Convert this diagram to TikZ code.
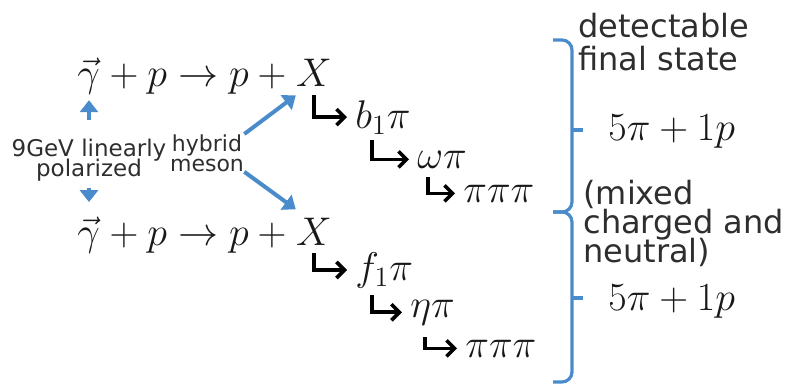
\RequirePackage{fix-cm}
\documentclass[tikz,border=0pt]{standalone}
\usepackage{fontspec}
\usepackage{amsmath}
\usepackage{xcolor}
\usepackage{tikz}
\usetikzlibrary{arrows.meta,positioning,calc}
\newfontfamily\sansfam{DejaVu Sans}
\definecolor{hblue}{HTML}{4A8CCB}
\definecolor{txt}{HTML}{2E2E2E}
\lineskiplimit=-50pt

\begin{document}
\begin{tikzpicture}[
    x=0.5pt, y=-0.5pt,
    mathnode/.style={inner sep=0pt, anchor=base west, text=black!90,
        font=\fontsize{20}{24}\selectfont},
    note/.style={inner sep=0pt, align=center, anchor=north, text=txt},
    sidenote/.style={inner sep=0pt, align=left, anchor=north west, text=txt,
        font=\sansfam\fontsize{16}{16.5}\selectfont},
    decayarrow/.style={-{Straight Barb[length=4pt,width=8pt]}, line width=1.8pt,
        black, shorten >=4pt},
    beamarrow/.style={-{Triangle[length=6pt,width=9pt]}, line width=2pt, hblue},
    bracket/.style={line width=1.6pt, hblue, rounded corners=5pt},
]
\useasboundingbox (0,0) rectangle (790,385);

% reactions
\node[mathnode] (gtop) at (77,87) {$\vec{\gamma}$};
\node[mathnode] (rtop) at (gtop.base east) {${}+p\to p+{}$};
\node[mathnode] (xtop) at (rtop.base east) {$X$};

\node[mathnode] (gbot) at (77,245) {$\vec{\gamma}$};
\node[mathnode] (rbot) at (gbot.base east) {${}+p\to p+{}$};
\node[mathnode] (xbot) at (rbot.base east) {$X$};

% decay products
\node[mathnode] (bone) at (355,128) {$b_1\pi$};
\node[mathnode] (wtop) at (417,168) {$\omega\pi$};
\node[mathnode] (pitop) at (463,202) {$\pi\pi\pi$};

\node[mathnode] (fone) at (355,280) {$f_1\pi$};
\node[mathnode] (eta) at (410,317) {$\eta\pi$};
\node[mathnode] (pibot) at (465,357) {$\pi\pi\pi$};

% labels
\node[note, font=\sansfam\fontsize{11.5}{10}\selectfont] (pol) at (89,139)
    {9GeV linearly\\polarized};
\node[note, font=\sansfam\fontsize{11}{10}\selectfont] (hyb) at (207,134)
    {hybrid\\meson};

% final state
\node[sidenote] (detect) at (578,13) {detectable\\final state};
\node[sidenote, font=\sansfam\fontsize{16}{14.5}\selectfont] (mixed) at (583,180)
    {(mixed\\charged and\\neutral)};
\node[mathnode] (sumtop) at (608,140) {$5\pi+1p$};
\node[mathnode] (sumbot) at (608,310) {$5\pi+1p$};

% arrows
\draw[decayarrow] ([yshift=-4pt]xtop.south) |- (bone.west);
\draw[decayarrow] ($(bone.base west)+(17,12)$) |- (wtop.west);
\draw[decayarrow] ($(wtop.base west)+(11,9)$) |- (pitop.west);

\draw[decayarrow] ([yshift=-4pt]xbot.south) |- (fone.west);
\draw[decayarrow] ($(fone.base west)+(17,15)$) |- (eta.west);
\draw[decayarrow] ($(eta.base west)+(15,20)$) |- (pibot.west);

\draw[beamarrow, shorten <=9.5pt, shorten >=2.5pt] (pol.north) -- (pol.north |- gtop.south);
\draw[beamarrow, shorten <=3pt, shorten >=7pt] (pol.south) -- (pol.south |- gbot.north);
\draw[beamarrow] (hyb.north east) -- ([yshift=-4pt]xtop.south west);
\draw[beamarrow] (hyb.south east) -- ([yshift=4pt]xbot.north west);

% braces
\coordinate (spine) at (572,0);
\coordinate (btop) at (553,40);
\coordinate (bmid) at (553,212);
\coordinate (bbot) at (553,382);
\coordinate (tiptop) at (583,130);
\coordinate (tipbot) at (583,298);
\draw[bracket] (btop) -| (spine |- bmid) -- (bmid);
\draw[bracket] (bmid) -| (spine |- bbot) -- (bbot);
\draw[bracket] (spine |- tiptop) -- (tiptop);
\draw[bracket] (spine |- tipbot) -- (tipbot);

\end{tikzpicture}
\end{document}
